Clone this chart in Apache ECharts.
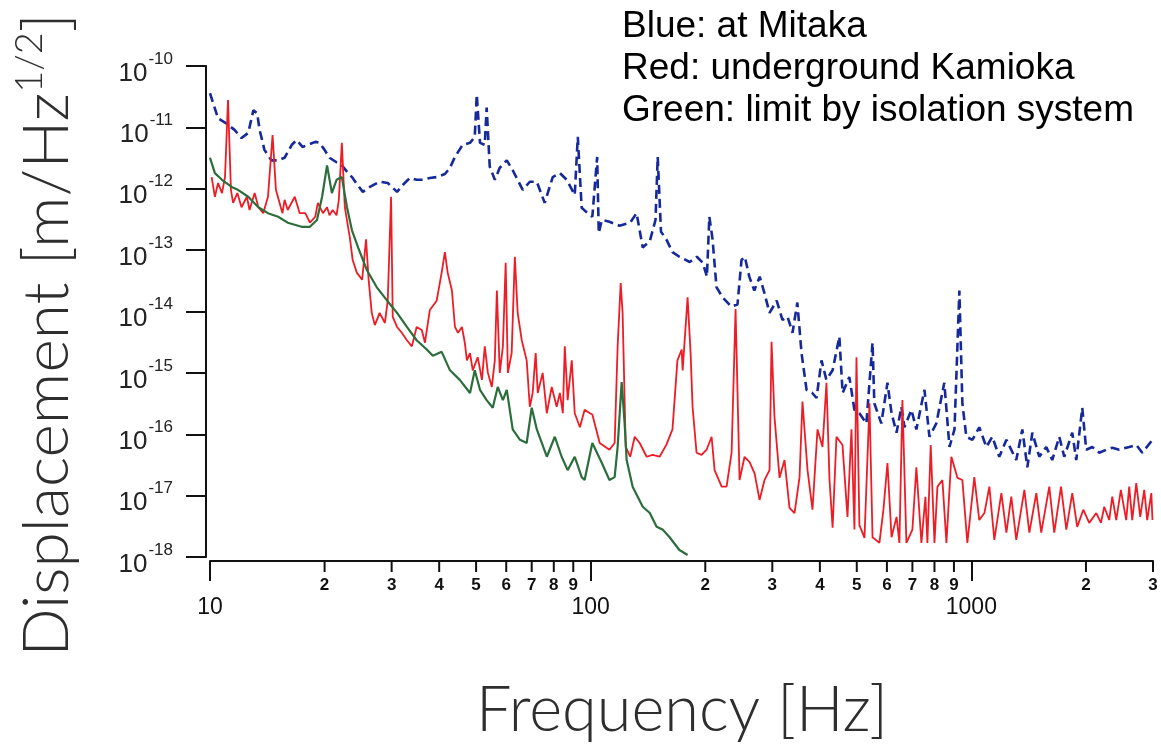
<!DOCTYPE html>
<html>
<head>
<meta charset="utf-8">
<script src="https://cdn.jsdelivr.net/npm/echarts@6/dist/echarts.min.js"></script>
<style>
  html, body { margin: 0; padding: 0; background: #ffffff; }
  #chart { width: 1161px; height: 746px; }
</style>
</head>
<body>
<div id="chart"></div>
<script>
// Displacement spectra [frequency Hz, displacement m/Hz^1/2]

// Blue: measured at Mitaka
const mitaka = [
  [10,3.6e-11],[10.5,1.4e-11],[10.95,1.2e-11],[11.6,9.1e-12],[12.1,6.7e-12],[12.6,8.1e-12],[13.0,1.9e-11],[13.3,1.7e-11],
  [13.5,9.1e-12],[13.9,4.3e-12],[14.5,2.9e-12],[15.1,2.9e-12],[15.7,3.2e-12],[16.4,5.2e-12],[16.9,6.2e-12],[17.5,4.8e-12],
  [18.1,5.2e-12],[18.9,5.8e-12],[19.4,5.6e-12],[20.0,4.3e-12],[20.6,3.2e-12],[21.5,2.7e-12],[22.2,2.4e-12],[22.9,1.9e-12],
  [23.6,1.55e-12],[24.3,1.2e-12],[25.2,8.9e-13],[26.3,1.07e-12],[27.9,1.3e-12],[29.3,1.24e-12],[31.0,8.9e-13],[32.1,1.15e-12],
  [33.5,1.5e-12],[34.9,1.4e-12],[36.2,1.4e-12],[37.8,1.5e-12],[39.4,1.55e-12],[41.4,1.74e-12],[42.7,2.2e-12],[44.0,3.3e-12],
  [46.1,5.2e-12],[48.2,5.6e-12],[49.6,7.0e-12],[50.2,3.4e-11],[51.2,5.6e-12],[52.7,5.2e-12],[53.3,2.1e-11],[54.3,2.3e-12],
  [56.0,1.4e-12],[57.7,2.2e-12],[60.2,2.9e-12],[62.4,2.0e-12],[66.3,9.6e-13],[69.2,1.3e-12],[72.2,1.3e-12],[75.7,5.9e-13],
  [79.5,1.55e-12],[83.0,1.8e-12],[86.5,1.4e-12],[90.8,7.9e-13],[92.5,7.0e-12],[94.7,4.9e-13],[99.5,3.7e-13],[101,3.5e-13],
  [104,3.3e-12],[105,1.9e-13],[107,3.1e-13],[112,2.9e-13],[119,2.5e-13],[127,2.8e-13],[132,4.0e-13],[137,1.1e-13],
  [143,1.4e-13],[148,3.1e-13],[150,3.3e-12],[153,2.0e-13],[158,1.5e-13],[164,9.3e-14],[171,7.8e-14],[182,6.4e-14],
  [190,7.8e-14],[197,6.2e-14],[202,3.7e-14],[205,3.5e-13],[209,1.5e-13],[214,2.5e-14],[222,1.7e-14],[234,1.2e-14],
  [243,1.3e-14],[249,6.9e-14],[254,7.8e-14],[261,3.7e-14],[269,2.2e-14],[278,3.7e-14],[286,2.0e-14],[295,9.5e-15],
  [308,1.5e-14],[319,7.3e-15],[329,8.2e-15],[339,4.5e-15],[349,1.4e-14],[358,2.1e-15],[369,5.3e-16],[382,4.7e-16],
  [392,3.9e-16],[404,1.6e-15],[416,7.7e-16],[432,1.1e-15],[450,3.9e-15],[459,4.7e-16],[478,8.6e-16],[493,2.5e-16],
  [508,2.2e-16],[530,1.5e-16],[550,3.1e-15],[556,3.2e-16],[580,1.5e-16],[602,6.9e-16],[617,2.2e-16],[636,1.06e-16],
  [655,2.8e-16],[667,1.3e-16],[696,2.5e-16],[717,1.2e-16],[753,5.3e-16],[776,9.1e-17],[809,1.5e-16],[849,6.9e-16],
  [876,6.2e-17],[903,1.2e-16],[930,2.2e-14],[947,3.2e-16],[970,9.1e-17],[1006,8.1e-17],[1049,1.3e-16],[1095,6.2e-17],
  [1135,9.1e-17],[1184,4.3e-17],[1236,8.1e-17],[1312,3.8e-17],[1361,1.2e-16],[1403,2.9e-17],[1446,1.06e-16],[1508,4.3e-17],
  [1573,6.2e-17],[1631,3.8e-17],[1702,9.1e-17],[1754,4.3e-17],[1841,1.06e-16],[1886,3.8e-17],[1956,2.7e-16],[2003,5.6e-17],
  [2078,6.2e-17],[2168,5.0e-17],[2261,5.6e-17],[2345,6.0e-17],[2446,5.6e-17],[2598,6.2e-17],[2711,6.7e-17],[2811,5.0e-17],
  [2990,8.1e-17]
];

// Red: underground at Kamioka
const kamioka = [
  [10.1,1.55e-12],[10.3,7.4e-13],[10.5,1.24e-12],[10.75,8.5e-13],[10.95,1.55e-12],[11.15,2.8e-11],[11.35,9.6e-13],[11.5,5.9e-13],
  [11.8,8.5e-13],[12.1,5.0e-13],[12.5,7.4e-13],[12.7,4.5e-13],[13.1,8.5e-13],[13.4,5.0e-13],[13.8,4.0e-13],[14.2,7.4e-13],
  [14.6,7.5e-12],[14.9,9.6e-13],[15.5,4.0e-13],[15.7,6.6e-13],[16.0,4.5e-13],[16.7,7.4e-13],[17.2,4.0e-13],[17.8,4.0e-13],
  [18.3,2.8e-13],[18.9,3.5e-13],[19.2,5.9e-13],[19.8,4.0e-13],[20.3,5.0e-13],[20.6,3.7e-13],[21.0,4.5e-13],[21.5,3.7e-13],
  [21.8,6.6e-13],[22.2,5.6e-12],[22.6,5.0e-13],[23.3,1.6e-13],[23.7,6.9e-14],[24.3,4.3e-14],[25.1,3.3e-14],[25.7,1.5e-13],
  [26.1,3.3e-14],[26.6,9.5e-15],[27.1,6.0e-15],[27.9,9.5e-15],[28.8,6.5e-15],[29.3,1.5e-14],[29.9,7.4e-13],[30.2,8.2e-15],
  [31.0,5.6e-15],[31.9,4.5e-15],[32.9,3.4e-15],[33.9,2.7e-15],[34.9,5.6e-15],[36.0,5.0e-15],[36.7,3.1e-15],[37.8,1.06e-14],
  [39.4,1.5e-14],[40.6,4.3e-14],[41.4,9.3e-14],[42.1,4.3e-14],[43.2,2.2e-14],[44.0,5.6e-15],[44.8,4.5e-15],[45.9,5.6e-15],
  [46.7,3.1e-15],[47.3,1.6e-15],[48.2,2.1e-15],[49.0,1.1e-15],[50.5,1.8e-15],[51.8,7.7e-16],[52.7,2.7e-15],[53.7,1.0e-15],
  [55.0,5.9e-16],[56.0,1.6e-15],[56.7,2.2e-14],[57.7,1.0e-15],[58.8,2.7e-15],[59.8,6.2e-14],[60.6,1.0e-15],[62.0,2.1e-15],
  [63.2,7.8e-14],[64.3,9.5e-15],[65.9,3.4e-15],[67.9,1.6e-15],[69.2,2.8e-16],[70.4,4.7e-16],[71.7,2.1e-15],[72.6,4.7e-16],
  [74.8,1.0e-15],[76.7,2.2e-16],[79.0,5.9e-16],[81.4,2.8e-16],[83.0,4.7e-16],[84.5,2.2e-16],[85.5,2.7e-15],[87.0,3.6e-16],
  [89.2,1.6e-15],[90.8,2.2e-16],[93.7,1.3e-16],[96.4,2.5e-16],[99.5,2.2e-16],[101,2.1e-16],[105.6,7.2e-17],[112,5.6e-17],
  [115.6,7.2e-17],[117.7,2.7e-15],[119.9,2.9e-14],[121.3,9.5e-15],[123.6,6.2e-17],[127,4.3e-17],[130.5,9.1e-17],[134.5,7.2e-17],
  [140.3,4.3e-17],[145.5,4.6e-17],[151.7,4.3e-17],[158,6.7e-17],[164,1.2e-16],[169,1.6e-15],[173.4,2.4e-15],[174.4,1.1e-15],
  [179.7,1.7e-14],[183,2.1e-15],[185.2,2.8e-16],[189.7,5.0e-17],[195.6,4.6e-17],[201.6,5.6e-17],[207.8,9.1e-17],[211.6,2.6e-17],
  [220.8,1.4e-17],[227.5,1.4e-17],[234.5,5.0e-17],[240.2,1.1e-14],[246.1,1.8e-17],[253.6,4.3e-17],[261.5,3.5e-17],[269.5,2.3e-17],
  [277.7,8.5e-18],[286.2,1.8e-17],[295,2.6e-17],[298.6,3.2e-15],[304,1.9e-16],[313.4,1.95e-17],[323,3.8e-17],[332.9,6.3e-18],
  [343.1,5.2e-18],[353.7,2.0e-17],[360,3.4e-16],[371.2,2.6e-17],[382.5,5.9e-18],[394.3,1.2e-16],[406.4,6.2e-17],[416.3,6.9e-16],
  [424,1.8e-17],[432,3.0e-18],[442.2,9.1e-17],[458.6,6.7e-17],[472.7,4.5e-18],[484.2,1.2e-16],[493,2.8e-18],[499.1,1.8e-15],
  [508,3.3e-18],[523.9,2.05e-18],[540,3.2e-16],[550,2.1e-18],[573.4,1.7e-18],[587.5,5.9e-18],[602,3.4e-17],[617,2.1e-18],
  [636,4.5e-18],[647.1,1.7e-18],[659,3.6e-16],[675.1,1.7e-18],[700,2.8e-18],[717,2.9e-17],[739.2,1.7e-18],[757.4,9.6e-18],
  [766.5,1.7e-18],[782,6.7e-17],[800,1.7e-18],[814.4,1.4e-17],[839.3,1.8e-17],[860,1.7e-18],[886,4.3e-17],[902.5,2.9e-17],
  [919,1.95e-17],[947,1.8e-17],[976,1.7e-18],[1018,2.0e-17],[1049,4.0e-18],[1082,5.2e-18],[1115,1.4e-17],[1149,1.9e-18],
  [1199,1.1e-17],[1236,2.5e-18],[1273,9.6e-18],[1312,1.9e-18],[1378,1.24e-17],[1420,2.5e-18],[1481,1.1e-17],[1526,2.5e-18],
  [1602,1.4e-17],[1651,2.5e-18],[1720,1.4e-17],[1776,2.8e-18],[1841,1.1e-17],[1897,3.1e-18],[1968,5.9e-18],[2040,3.6e-18],
  [2129,5.2e-18],[2190,3.6e-18],[2234,6.6e-18],[2302,4.0e-18],[2345,9.6e-18],[2402,4.0e-18],[2470,1.24e-17],[2551,4.0e-18],
  [2598,1.4e-17],[2646,4.0e-18],[2711,1.6e-17],[2777,4.5e-18],[2845,1.24e-17],[2897,4.0e-18],[2970,1.1e-17],[2990,4.0e-18]
];

// Green: limit set by the isolation system
const isolationLimit = [
  [10,3.2e-12],[10.3,1.8e-12],[10.75,1.4e-12],[11.4,1.07e-12],[11.84,9.6e-13],[12.6,7.4e-13],[13.4,5.0e-13],[14.2,4.0e-13],
  [15.1,3.5e-13],[16.0,2.8e-13],[17.4,2.4e-13],[18.3,2.4e-13],[19.1,3.1e-13],[19.7,7.4e-13],[20.3,2.4e-12],[20.9,8.5e-13],
  [21.5,1.4e-12],[22.2,1.55e-12],[22.9,5.0e-13],[23.6,2.1e-13],[24.5,1.1e-13],[25.8,4.8e-14],[27.4,2.5e-14],[29.2,1.5e-14],
  [31.0,9.5e-15],[32.9,5.6e-15],[34.9,3.4e-15],[37.1,2.4e-15],[38.5,1.9e-15],[40.6,2.2e-15],[42.7,1.1e-15],[45.3,7.7e-16],
  [48.2,4.7e-16],[49.6,1.1e-15],[51.2,5.3e-16],[53.3,3.6e-16],[55.3,2.7e-16],[57.0,5.9e-16],[58.8,3.6e-16],[60.2,5.3e-16],
  [62.4,1.2e-16],[65.2,8.1e-17],[67.9,7.2e-17],[70.0,2.7e-16],[72.2,1.2e-16],[76.7,4.3e-17],[80.5,9.1e-17],[83.9,4.3e-17],
  [87.0,2.6e-17],[90.8,4.3e-17],[94.7,2.0e-17],[96.4,1.8e-17],[101,7.2e-17],[107,3.4e-17],[112,1.8e-17],[115.6,2.0e-17],
  [117.7,6.2e-17],[120.6,7.1e-16],[122.8,1.5e-16],[124.3,3.8e-17],[128.9,1.4e-17],[137,6.6e-18],[143,5.2e-18],[149,3.1e-18],
  [154.5,2.8e-18],[161.2,2.1e-18],[171,1.3e-18],[179.7,1.08e-18]
];

// Axis ranges and tick marks
const freqRange = [10, 3000];
const dispRange = [1e-18, 1e-10];
const xMajorTicks = [10, 100, 1000];
const xMinorTicks = [20, 30, 40, 50, 60, 70, 80, 90, 200, 300, 400, 500, 600, 700, 800, 900, 2000, 3000];
const xMinorLabels = ['2', '3', '4', '5', '6', '7', '8', '9', '2', '3', '4', '5', '6', '7', '8', '9', '2', '3'];

const legendLines = ['Blue: at Mitaka', 'Red: underground Kamioka', 'Green: limit by isolation system'];
const xTitle = 'Frequency [Hz]';
const yTitle = ['Displacement [m/Hz', '1/2', ']'];

const AXIS_COLOR = '#111111';
const TITLE_FONT = 'Lato, "Open Sans", sans-serif';
const LABEL_FONT = '"Liberation Sans", Arial, sans-serif';

const chart = echarts.init(document.getElementById('chart'), null, { renderer: 'canvas' });

const option = {
  backgroundColor: '#ffffff',
  animation: false,
  grid: { left: 210, right: 8, top: 66, bottom: 189, containLabel: false },
  xAxis: {
    type: 'log',
    logBase: 10,
    min: freqRange[0],
    max: freqRange[1],
    offset: 4,
    axisLine: { show: true, lineStyle: { color: AXIS_COLOR, width: 2 } },
    axisTick: { show: true, length: 20, customValues: xMajorTicks,
      lineStyle: { color: AXIS_COLOR, width: 2 } },
    axisLabel: {
      customValues: xMajorTicks,
      margin: 35,
      fontSize: 23,
      fontFamily: LABEL_FONT,
      color: '#111',
      formatter: function (v) {
        const e = Math.log10(v);
        return Math.abs(e - Math.round(e)) < 1e-6 ? String(Math.round(v)) : '';
      }
    },
    splitLine: { show: false },
    minorTick: { show: false }
  },
  yAxis: {
    type: 'log',
    logBase: 10,
    min: dispRange[0],
    max: dispRange[1],
    splitNumber: 8,
    offset: 4,
    axisLine: { show: true, lineStyle: { color: AXIS_COLOR, width: 2 } },
    axisTick: { show: true, length: 20, lineStyle: { color: AXIS_COLOR, width: 2 } },
    axisLabel: {
      margin: 33,
      formatter: function (v) {
        return '{b|10}{s|' + Math.round(Math.log10(v)) + '}';
      },
      rich: {
        b: { fontSize: 26, fontFamily: LABEL_FONT, color: '#222', lineHeight: 26, padding: [15, 0, 0, 0] },
        s: { fontSize: 17, fontFamily: LABEL_FONT, color: '#222', lineHeight: 17, padding: [0, 0, 14, 1] }
      }
    },
    splitLine: { show: false }
  },
  graphic: [
    {
      type: 'text', left: 622, top: 6,
      style: { text: legendLines.join('\n'), font: '37px ' + LABEL_FONT, lineHeight: 42, fill: '#000' }
    },
    {
      type: 'text', x: 682, y: 711,
      style: { text: xTitle, font: '300 63px ' + TITLE_FONT, fill: '#2e2e2e',
               align: 'center', verticalAlign: 'middle' }
    },
    {
      type: 'text', x: 47, y: 335, rotation: Math.PI / 2,
      style: {
        text: '{a|' + yTitle[0] + '}{s|' + yTitle[1] + '}{a|' + yTitle[2] + '}',
        align: 'center', verticalAlign: 'middle',
        rich: {
          a: { fontSize: 64, fontFamily: TITLE_FONT, fontWeight: 300, fill: '#2e2e2e', lineHeight: 64 },
          s: { fontSize: 38, fontFamily: TITLE_FONT, fontWeight: 300, fill: '#2e2e2e', lineHeight: 38,
               padding: [0, 0, 34, 0] }
        }
      }
    }
  ],
  series: [
    {
      name: 'Mitaka',
      type: 'line',
      data: mitaka,
      showSymbol: false,
      symbol: 'none',
      lineStyle: { color: '#16299a', width: 2.6, type: [9, 5] },
      z: 2
    },
    {
      name: 'Kamioka',
      type: 'line',
      data: kamioka,
      showSymbol: false,
      symbol: 'none',
      lineStyle: { color: '#ee1c24', width: 1.8 },
      z: 3
    },
    {
      name: 'Isolation limit',
      type: 'line',
      data: isolationLimit,
      showSymbol: false,
      symbol: 'none',
      lineStyle: { color: '#2b6e3c', width: 2.2 },
      z: 4
    },
    {
      // minor decade ticks (2..9) drawn under the frequency axis
      name: 'minor ticks',
      type: 'custom',
      silent: true,
      clip: false,
      z: 10,
      data: xMinorTicks.map(function (f) { return [f, dispRange[0]]; }),
      renderItem: function (params, api) {
        const p = api.coord([api.value(0), dispRange[0]]);
        const x = p[0];
        const y = p[1] + 4;
        return {
          type: 'group',
          children: [
            { type: 'line', shape: { x1: x, y1: y, x2: x, y2: y + 11 },
              style: { stroke: AXIS_COLOR, lineWidth: 2 } },
            { type: 'text', style: { text: xMinorLabels[params.dataIndex], x: x, y: y + 24,
                align: 'center', verticalAlign: 'middle',
                font: 'bold 17px "Liberation Sans Narrow", "Liberation Sans", Arial, sans-serif',
                fill: '#111' } }
          ]
        };
      }
    }
  ]
};

chart.setOption(option);
</script>
</body>
</html>
